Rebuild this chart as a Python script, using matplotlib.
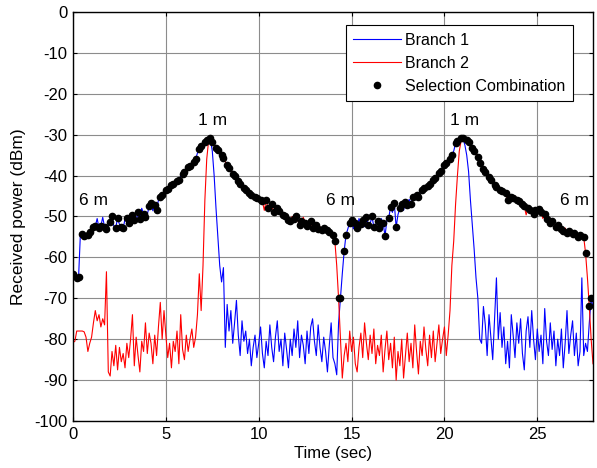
import numpy as np
import matplotlib
matplotlib.use("Agg")
import matplotlib.pyplot as plt

plt.rcParams['font.family'] = ['Liberation Sans', 'DejaVu Sans']
plt.rcParams['axes.unicode_minus'] = False

# sample times (0.1 s steps, 0 .. 28 s)
time_sec = np.round(np.arange(281) * 0.1, 1)

# Branch 1 received power (dBm), one row per second
branch1 = [
    -64.0, -64.5, -65.0, -64.8, -54.0, -54.2, -54.8, -55.3, -54.5, -53.7,
    -53.0, -52.6, -52.4, -50.5, -52.8, -52.3, -50.2, -52.6, -53.0, -52.1,
    -51.3, -50.0, -52.4, -52.7, -50.4, -51.9, -52.5, -52.9, -50.6, -50.4,
    -51.5, -52.0, -49.6, -50.9, -51.2, -48.8, -50.6, -48.0, -49.3, -50.2,
    -49.5, -47.5, -46.8, -48.6, -47.2, -48.4, -46.0, -45.2, -44.7, -44.0,
    -43.5, -43.2, -42.7, -42.3, -42.0, -41.6, -41.3, -41.0, -40.2, -39.6,
    -39.0, -38.6, -38.0, -37.6, -37.0, -36.6, -36.0, -34.5, -33.6, -32.8,
    -32.3, -31.7, -31.2, -31.0, -31.2, -34.0, -40.0, -48.0, -55.0, -62.0,
    -66.0, -62.5, -82.0, -71.5, -78.0, -73.0, -81.0, -76.0, -70.5, -79.0,
    -84.0, -75.5, -80.5, -78.0, -83.5, -80.0, -86.5, -82.0, -79.0, -84.5,
    -81.0, -77.0, -83.5, -87.0, -80.5, -84.0, -76.5, -82.0, -85.5, -79.5,
    -75.5, -83.0, -80.0, -86.5, -78.5, -82.5, -87.0, -80.0, -84.0, -77.5,
    -82.0, -75.5, -84.5, -79.0, -81.5, -86.0, -78.0, -83.5, -77.0, -75.0,
    -80.5, -84.0, -76.5, -82.0, -85.5, -79.5, -83.0, -88.0, -81.5, -76.0,
    -84.5, -86.0, -88.7, -76.0, -70.0, -64.0, -58.5, -54.5, -53.0, -51.5,
    -50.9, -53.0, -51.5, -52.9, -50.5, -51.8, -50.9, -52.5, -50.2, -52.0,
    -51.7, -50.0, -52.6, -52.0, -51.0, -52.8, -50.5, -51.5, -54.8, -51.0,
    -50.4, -47.6, -49.0, -46.8, -52.6, -49.5, -48.0, -47.0, -48.5, -46.4,
    -47.2, -45.8, -46.9, -45.2, -46.0, -44.7, -45.2, -44.0, -43.6, -43.1,
    -42.8, -42.5, -42.0, -41.6, -41.0, -40.5, -40.0, -39.4, -38.8, -38.0,
    -37.5, -37.0, -36.5, -36.0, -35.0, -34.0, -32.1, -31.5, -31.0, -30.9,
    -31.0, -32.5, -35.0, -39.0, -46.0, -52.0, -58.0, -65.0, -70.0, -80.0,
    -81.0, -72.0, -76.5, -84.0, -74.0, -79.5, -85.0, -75.0, -65.0, -80.0,
    -73.5, -82.0, -77.0, -86.0, -80.5, -87.0, -74.0, -79.0, -84.5, -76.0,
    -81.0, -75.0, -83.5, -87.5, -78.0, -74.5, -82.0, -73.0, -80.0, -85.0,
    -77.5, -83.0, -79.0, -86.0, -72.5, -80.5, -84.0, -76.0, -82.5, -78.0,
    -86.5, -80.0, -84.0, -77.5, -87.0, -81.0, -73.0, -83.5, -79.0, -75.5,
    -84.0, -78.5, -86.5, -83.0, -65.0, -84.0, -81.0, -83.0, -76.0, -70.0,
    -72.0,
]

# Branch 2 received power (dBm)
branch2 = [
    -80.8, -80.5, -78.0, -78.0, -78.0, -78.0, -78.2, -79.5, -83.0, -81.0,
    -79.5, -76.0, -73.0, -75.5, -74.0, -77.0, -75.0, -76.5, -63.5, -88.0,
    -89.0, -83.0, -86.5, -81.5, -87.5, -82.0, -85.5, -83.5, -87.0, -81.0,
    -84.5, -80.0, -74.0, -86.5, -79.5, -84.0, -88.0, -80.5, -83.0, -76.0,
    -83.5, -78.5, -81.0, -86.0, -79.0, -84.0, -77.0, -71.0, -80.0, -73.0,
    -79.0, -84.5, -81.0, -87.0, -80.5, -83.0, -78.0, -86.0, -74.0, -82.5,
    -85.0, -79.0, -83.0, -80.0, -77.5, -82.0, -79.5, -74.0, -64.0, -73.0,
    -62.0, -46.0, -36.0, -31.5, -30.9, -31.7, -32.5, -33.3, -33.7, -34.3,
    -35.0, -35.8, -36.6, -37.5, -38.2, -38.8, -39.5, -40.2, -40.7, -41.3,
    -42.0, -42.5, -43.0, -43.5, -44.0, -44.3, -44.8, -45.0, -45.3, -45.5,
    -45.6, -46.0, -46.3, -48.5, -46.0, -48.0, -47.3, -47.0, -49.0, -47.8,
    -48.0, -48.6, -49.2, -49.6, -50.0, -49.5, -50.9, -51.2, -50.0, -50.5,
    -50.0, -51.0, -52.0, -51.2, -50.2, -51.5, -52.3, -52.5, -51.0, -52.8,
    -52.5, -52.0, -53.0, -52.5, -53.3, -52.8, -53.5, -53.2, -53.7, -54.0,
    -54.5, -56.0, -62.0, -70.0, -80.0, -89.5, -84.0, -81.0, -85.5, -78.0,
    -83.0, -79.5, -86.0, -88.0, -82.0, -78.5, -84.5, -76.0, -81.0, -85.0,
    -79.0, -83.5, -77.5, -86.0, -81.5, -84.0, -79.0, -88.0, -82.5, -78.0,
    -85.0, -81.0, -87.0, -79.5, -90.0, -83.0, -86.5, -80.0, -89.5, -84.0,
    -78.5, -85.5, -81.0, -87.0, -76.5, -83.0, -88.5, -80.5, -84.0, -77.0,
    -82.5, -86.5, -79.0, -84.5, -78.0, -85.5, -81.0, -76.5, -83.5, -80.0,
    -77.0, -84.0, -79.0, -73.0, -62.0, -56.0, -47.0, -40.0, -34.0, -31.5,
    -30.9, -30.9, -31.3, -31.8, -32.6, -33.2, -34.0, -34.4, -35.5, -37.0,
    -37.5, -38.3, -39.0, -39.8, -40.3, -41.0, -41.6, -42.2, -42.8, -43.2,
    -43.5, -43.8, -44.0, -44.3, -46.0, -44.7, -45.2, -45.5, -45.0, -45.9,
    -46.2, -46.4, -47.0, -47.5, -49.6, -48.0, -48.4, -48.0, -49.5, -48.3,
    -48.5, -48.2, -48.8, -50.5, -49.5, -50.5, -51.0, -51.7, -51.2, -52.0,
    -52.5, -52.0, -53.3, -53.0, -53.6, -52.8, -54.0, -53.5, -54.5, -54.2,
    -54.0, -54.5, -55.0, -54.5, -54.8, -55.0, -59.0, -65.0, -72.0, -80.0,
    -86.0,
]

# distance labels: (time, power, text)
labels = [(1.1, -46, "6 m"), (7.5, -26.6, "1 m"), (14.4, -46, "6 m"),
          (21.1, -26.6, "1 m"), (27.0, -46, "6 m")]

b1 = np.array(branch1)
b2 = np.array(branch2)
# selection combining picks the stronger branch
selection = np.maximum(b1, b2)
keep = np.arange(len(time_sec)) % 3 != 1

fig = plt.figure(figsize=(5.97, 4.68), dpi=100)
ax = fig.add_axes([0.1223, 0.1004, 0.871, 0.874])

ax.plot(time_sec, b1, color='blue', lw=0.8, label='Branch 1')
ax.plot(time_sec, b2, color='red', lw=0.8, label='Branch 2')
ax.plot(time_sec[keep], selection[keep], 'o', color='black', ms=4.5,
        label='Selection Combination')

for tx, ty, s in labels:
    ax.text(tx, ty, s, ha='center', va='center', fontsize=12.5)

ax.set_xlim(0, 28)
ax.set_ylim(-100, 0)
ax.set_xticks([0, 5, 10, 15, 20, 25])
ax.set_yticks(np.arange(-100, 1, 10))
ax.grid(True, color='0.55', lw=0.8)
ax.set_axisbelow(True)
ax.tick_params(direction='in', top=True, right=True, labelsize=12, length=3, pad=4)
for sp in ax.spines.values():
    sp.set_linewidth(1.0)
ax.set_xlabel('Time (sec)', fontsize=12, labelpad=3)
ax.set_ylabel('Received power (dBm)', fontsize=12.5, labelpad=6)

leg = ax.legend(loc='upper right', bbox_to_anchor=(0.9615, 0.968), fontsize=11.5,
                fancybox=False, framealpha=1, edgecolor='black',
                handlelength=3.0, handletextpad=0.25, borderpad=0.47,
                labelspacing=0.5, numpoints=1, borderaxespad=0)
leg.get_frame().set_linewidth(0.8)

fig.savefig('out.png', dpi=100)
